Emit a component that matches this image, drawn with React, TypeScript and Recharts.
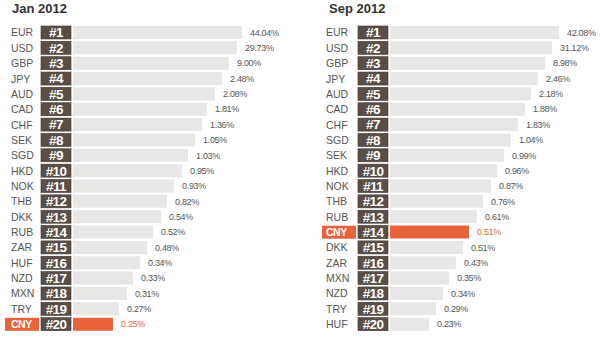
import React from 'react';
import { Bar, BarChart, Cell, LabelList, XAxis, YAxis } from 'recharts';

// Jan 2012 ranking
const janCodes = ['EUR', 'USD', 'GBP', 'JPY', 'AUD', 'CAD', 'CHF', 'SEK', 'SGD', 'HKD', 'NOK', 'THB', 'DKK', 'RUB', 'ZAR', 'HUF', 'NZD', 'MXN', 'TRY', 'CNY'];
const janShares = [44.04, 29.73, 9.0, 2.48, 2.08, 1.81, 1.36, 1.05, 1.03, 0.95, 0.93, 0.82, 0.54, 0.52, 0.48, 0.34, 0.33, 0.31, 0.27, 0.25];
// bar lengths as drawn in the original (not proportional to share)
const janBars = [169, 164, 156, 149, 142, 134, 129, 122, 115, 109, 101, 94, 88, 80, 74, 67, 60, 54, 46, 40];

// Sep 2012 ranking
const sepCodes = ['EUR', 'USD', 'GBP', 'JPY', 'AUD', 'CAD', 'CHF', 'SGD', 'SEK', 'HKD', 'NOK', 'THB', 'RUB', 'CNY', 'DKK', 'ZAR', 'MXN', 'NZD', 'TRY', 'HUF'];
const sepShares = [42.08, 31.12, 8.98, 2.46, 2.18, 1.88, 1.83, 1.04, 0.99, 0.96, 0.87, 0.76, 0.61, 0.51, 0.51, 0.43, 0.35, 0.34, 0.29, 0.23];
const sepBars = [169, 162, 155, 148, 141, 135, 128, 121, 114, 107, 101, 93, 87, 79, 73, 66, 59, 53, 46, 39];

const HIGHLIGHT = 'CNY';
const ORANGE = '#e8633a';
const BOX = '#5a4e46';
const BAR = '#e9e7e4';
const FONT = '"Liberation Sans", Arial, sans-serif';
const BOX_UNITS = 32; // rank box + gap, in pixel units of the x scale

function buildRows(codes: string[], shares: number[], bars: number[]) {
  return codes.map((code, i) => ({
    code,
    rank: `#${i + 1}`,
    share: shares[i],
    box: BOX_UNITS,
    len: bars[i],
  }));
}

const RankBox = (props: any) => {
  const { x, y, width, height, payload } = props;
  const w = width - 2;
  return (
    <g>
      <rect x={x} y={y} width={w} height={height} fill={BOX} stroke="#3e3530" strokeWidth={0.6} />
      <text
        x={x + w / 2}
        y={y + height / 2}
        dy="0.36em"
        textAnchor="middle"
        fill="#fff"
        fontFamily={FONT}
        fontWeight="bold"
        fontSize={13.5}
        letterSpacing={-0.6}
      >
        {payload.rank}
      </text>
    </g>
  );
};

function Panel({ title, rows, axisWidth }: { title: string; rows: any[]; axisWidth: number }) {
  const width = 300;
  const plotWidth = width - axisWidth;

  const CodeTick = (props: any) => {
    const { y, payload } = props;
    const hl = payload.value === HIGHLIGHT;
    const boxStart = axisWidth - 36;
    const textX = axisWidth - (axisWidth === 41 ? 30 : 32);
    return (
      <g>
        {hl && <rect x={boxStart} y={y - 6.5} width={34} height={13} fill={ORANGE} />}
        <text
          x={textX}
          y={y}
          dy="0.36em"
          textAnchor="start"
          fill={hl ? '#fff' : '#555'}
          fontFamily={FONT}
          fontWeight={hl ? 'bold' : 'normal'}
          fontSize={10.5}
          letterSpacing={hl ? -0.5 : 0}
        >
          {payload.value}
        </text>
      </g>
    );
  };

  const ShareLabel = (props: any) => {
    const { x, y, width: w, height: h, index } = props;
    const row = rows[index];
    return (
      <text
        x={x + w + 8}
        y={y + h / 2}
        dy="0.36em"
        fill={row.code === HIGHLIGHT ? ORANGE : '#555'}
        fontFamily={FONT}
        fontSize={9}
        letterSpacing={-0.3}
      >
        {`${row.share.toFixed(2)}%`}
      </text>
    );
  };

  return (
    <div style={{ position: 'relative', width, height: 343 }}>
      <div
        style={{
          position: 'absolute',
          top: 1,
          left: axisWidth - 29,
          fontFamily: FONT,
          fontWeight: 'bold',
          fontSize: 13,
          lineHeight: '15px',
          color: '#333',
        }}
      >
        {title}
      </div>
      <BarChart
        width={width}
        height={343}
        data={rows}
        layout="vertical"
        margin={{ top: 25, right: 0, bottom: 11, left: 0 }}
        barSize={13}
      >
        <XAxis type="number" hide domain={[0, plotWidth]} />
        <YAxis
          type="category"
          dataKey="code"
          width={axisWidth}
          axisLine={false}
          tickLine={false}
          interval={0}
          tick={CodeTick}
        />
        <Bar dataKey="box" stackId="s" shape={RankBox} isAnimationActive={false} />
        <Bar dataKey="len" stackId="s" isAnimationActive={false}>
          {rows.map((r) => (
            <Cell key={r.code} fill={r.code === HIGHLIGHT ? ORANGE : BAR} />
          ))}
          <LabelList dataKey="share" content={ShareLabel} />
        </Bar>
      </BarChart>
    </div>
  );
}

export default function App() {
  const jan = buildRows(janCodes, janShares, janBars);
  const sep = buildRows(sepCodes, sepShares, sepBars);
  return (
    <div style={{ position: 'absolute', left: 0, top: 0, width: 600, height: 343, background: '#fff', display: 'flex' }}>
      <Panel title="Jan 2012" rows={jan} axisWidth={41} />
      <Panel title="Sep 2012" rows={sep} axisWidth={58} />
    </div>
  );
}
